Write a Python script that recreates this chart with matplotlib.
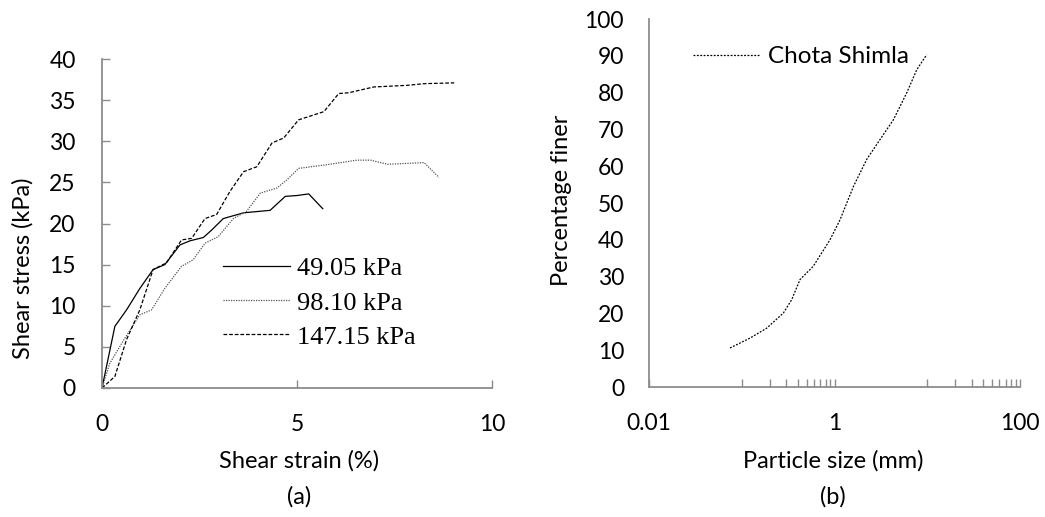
import matplotlib
matplotlib.use("Agg")
import matplotlib.pyplot as plt
import numpy as np

# ---- data (a) ----
strain_49 = [0, 0.33, 0.63, 0.97, 1.31, 1.61, 2.0, 2.26, 2.6, 2.81, 3.11, 3.63, 4.31, 4.70, 5.0, 5.3, 5.66]
stress_49 = [0, 7.5, 9.5, 12.1, 14.4, 15.0, 17.4, 17.9, 18.3, 19.2, 20.6, 21.3, 21.6, 23.3, 23.4, 23.6, 21.8]

strain_98 = [0, 0.2, 0.54, 0.97, 1.27, 1.61, 2.04, 2.34, 2.64, 2.98, 3.37, 3.71, 4.06, 4.48, 4.74, 5.04, 5.69, 6.54, 6.89, 7.32, 8.26, 8.64]
stress_98 = [0, 3.0, 5.7, 8.9, 9.5, 12.1, 14.8, 15.6, 17.6, 18.4, 20.6, 21.5, 23.7, 24.3, 25.3, 26.7, 27.1, 27.7, 27.7, 27.2, 27.4, 25.6]

strain_147 = [0, 0.33, 0.63, 0.97, 1.31, 1.65, 2.04, 2.30, 2.64, 2.94, 3.28, 3.63, 3.97, 4.36, 4.66, 5.04, 5.69, 6.07, 6.33, 6.97, 7.83, 8.26, 9.03]
stress_147 = [0, 1.4, 5.9, 9.5, 14.4, 15.2, 18.0, 18.2, 20.6, 21.1, 23.9, 26.3, 26.9, 29.8, 30.4, 32.6, 33.6, 35.8, 35.9, 36.6, 36.8, 37.0, 37.1]

labels_a = ["49.05 kPa", "98.10 kPa", "147.15 kPa"]

# ---- data (b) ----
size_mm = [0.0747, 0.123, 0.186, 0.281, 0.345, 0.425, 0.59, 0.894, 1.15, 1.6, 2.22, 2.85, 4.31, 6.0, 7.7, 9.86]
finer = [10.6, 13.3, 16.0, 20.1, 23.7, 29.2, 32.8, 40.0, 45.5, 54.5, 61.8, 65.9, 72.6, 79.9, 86.2, 90.3]
label_b = "Chota Shimla"

W, H = 1045, 517
fig = plt.figure(figsize=(W / 100, H / 100), dpi=100)
sans = ["Lato", "DejaVu Sans"]
serif = ["Liberation Serif", "DejaVu Serif"]
gray = "#8c8c8c"
fs = 16.5

def px(x0, y0, x1, y1):
    return [x0 / W, 1 - y1 / H, (x1 - x0) / W, (y1 - y0) / H]

# ---- (a) ----
ax1 = fig.add_axes(px(102, 59, 492, 388))
ax1.plot(strain_49, stress_49, color="black", lw=0.9, ls="-", label=labels_a[0])
ax1.plot(strain_98, stress_98, color="#555555", lw=0.9, ls=(0, (1, 1)), label=labels_a[1])
ax1.plot(strain_147, stress_147, color="black", lw=0.9, ls=(0, (3, 1.5)), label=labels_a[2])
ax1.set_xlim(0, 10)
ax1.set_ylim(0, 40)
ax1.set_xticks([0, 5, 10])
ax1.set_yticks(np.arange(0, 41, 5))
ax1.legend(loc="upper left", bbox_to_anchor=((223 - 102) / 390, (388 - 257) / 329),
           frameon=False, prop={"family": serif, "size": 19},
           handlelength=2.55, handletextpad=0.27, labelspacing=0.4, borderaxespad=0, borderpad=0)

# ---- (b) ----
ax2 = fig.add_axes(px(649, 19, 1020, 387))
ax2.semilogx(size_mm, finer, color="black", lw=0.9, ls=(0, (1.5, 1.2)), label=label_b)
ax2.set_xlim(0.01, 100)
ax2.set_ylim(0, 100)
ax2.set_xticks([0.01, 1, 100])
ax2.set_xticklabels(["0.01", "1", "100"])
minors = [0.1 * k for k in range(1, 10)] + [10 * k for k in range(1, 10)]
ax2.set_xticks(minors, minor=True)
ax2.set_xticklabels([], minor=True)
ax2.set_yticks(np.arange(0, 101, 10))
ax2.legend(loc="upper left", bbox_to_anchor=((693 - 649) / 371, (387 - 46) / 368),
           frameon=False, prop={"family": sans, "size": 17.5},
           handlelength=2.75, handletextpad=0.33, borderaxespad=0, borderpad=0)

for ax in (ax1, ax2):
    for s in ("top", "right"):
        ax.spines[s].set_visible(False)
    for s in ("left", "bottom"):
        ax.spines[s].set_color(gray)
        ax.spines[s].set_linewidth(1.3)
    for lab in ax.get_xticklabels() + ax.get_yticklabels():
        lab.set_family(sans)
        lab.set_fontsize(fs)

ax1.tick_params(axis="both", which="major", direction="in", length=6, color=gray, width=1.0)
ax1.tick_params(axis="y", pad=19)
ax1.tick_params(axis="x", pad=19)
ax2.tick_params(axis="x", which="both", direction="in", length=6, color=gray, width=1.0, pad=19)
ax2.tick_params(axis="y", which="both", length=0, pad=18)

# axis labels and captions
fl = 17
fig.text(23 / W, 1 - 268 / H, "Shear stress (kPa)", rotation=90, ha="center", va="center",
         family=sans, fontsize=fl)
fig.text(299 / W, 1 - 461 / H, "Shear strain (%)", ha="center", va="center", family=sans, fontsize=fl)
fig.text(299 / W, 1 - 497 / H, "(a)", ha="center", va="center", family=sans, fontsize=fl)

fig.text(562 / W, 1 - 200 / H, "Percentage finer", rotation=90, ha="center", va="center",
         family=sans, fontsize=fl)
fig.text(833 / W, 1 - 461 / H, "Particle size (mm)", ha="center", va="center", family=sans, fontsize=fl)
fig.text(833 / W, 1 - 497 / H, "(b)", ha="center", va="center", family=sans, fontsize=fl)

fig.savefig("out.png", dpi=100, facecolor="white")
